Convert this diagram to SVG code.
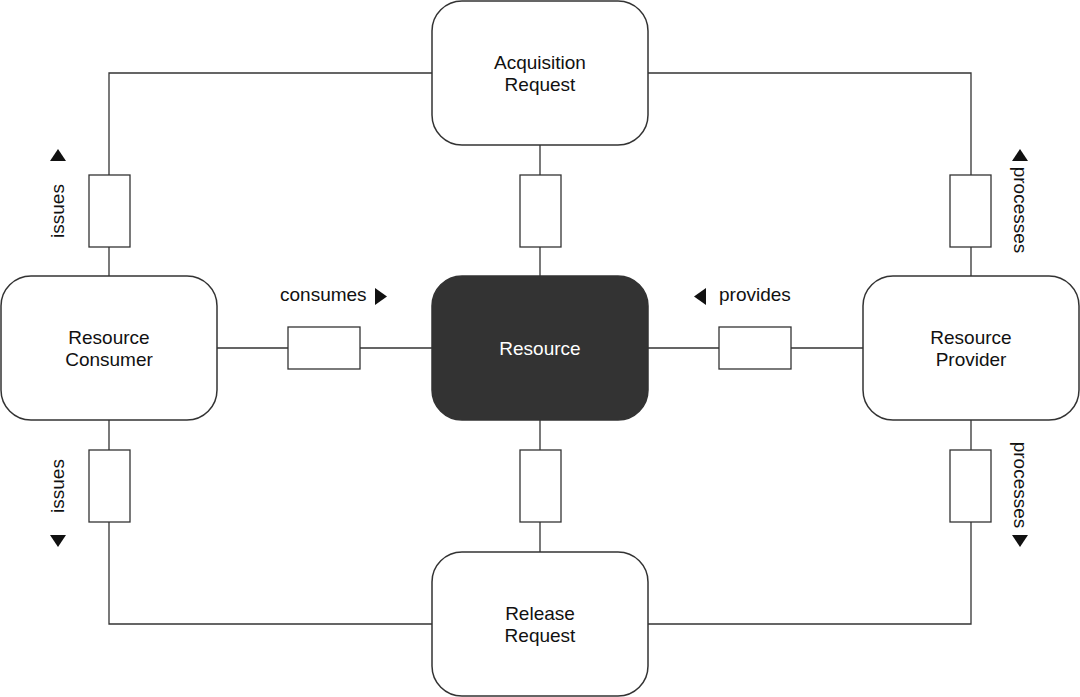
<svg xmlns="http://www.w3.org/2000/svg" width="1080" height="697" viewBox="0 0 1080 697">
<style>
.node{fill:#fff;stroke:#333;stroke-width:1.5}
.dark{fill:#333;stroke:#333;stroke-width:1.5}
.port{fill:#fff;stroke:#333;stroke-width:1.3}
.wire{fill:none;stroke:#333;stroke-width:1.3}
text{font-family:"Liberation Sans",Arial,Helvetica,sans-serif;font-size:19px;fill:#111}
.c{text-anchor:middle}
.w{fill:#fff}
.tri{fill:#111}
</style>
<rect width="1080" height="697" fill="#fff"/>
<g id="connectors">
<path class="wire" d="M432,73H109V276M648,73H971V276M540,145V276M217,348H432M648,348H863M109,420V624H432M971,420V624H648M540,420V552"/>
<rect class="port" x="89" y="175" width="41" height="72"/>
<rect class="port" x="520" y="175" width="41" height="72"/>
<rect class="port" x="950" y="175" width="41" height="72"/>
<rect class="port" x="89" y="450" width="41" height="72"/>
<rect class="port" x="520" y="450" width="41" height="72"/>
<rect class="port" x="950" y="450" width="41" height="72"/>
<rect class="port" x="288" y="327" width="72" height="42"/>
<rect class="port" x="719" y="327" width="72" height="42"/>
</g>
<g id="labels">
<text class="c" transform="translate(64,211) rotate(-90)">issues</text>
<polygon class="tri" points="50,161 66,161 58,149"/>
<text class="c" transform="translate(64,486) rotate(-90)">issues</text>
<polygon class="tri" points="50,535 66,535 58,547"/>
<text class="c" transform="translate(1014,210) rotate(90)">processes</text>
<polygon class="tri" points="1012,161 1028,161 1020,149"/>
<text class="c" transform="translate(1014,485) rotate(90)">processes</text>
<polygon class="tri" points="1012,535 1028,535 1020,547"/>
<text x="280" y="301">consumes</text>
<polygon class="tri" points="375,288 375,305 387,296.5"/>
<text x="719" y="301">provides</text>
<polygon class="tri" points="706,288 706,305 694,296.5"/>
</g>
<g id="acquisition">
<rect class="node" x="432" y="1" width="216" height="144" rx="30"/>
<text class="c" x="540" y="69">Acquisition</text>
<text class="c" x="540" y="91">Request</text>
</g>
<g id="resource">
<rect class="dark" x="432" y="276" width="216" height="144" rx="30"/>
<text class="c w" x="540" y="355">Resource</text>
</g>
<g id="release">
<rect class="node" x="432" y="552" width="216" height="144" rx="30"/>
<text class="c" x="540" y="620">Release</text>
<text class="c" x="540" y="642">Request</text>
</g>
<g id="consumer">
<rect class="node" x="1" y="276" width="216" height="144" rx="30"/>
<text class="c" x="109" y="344">Resource</text>
<text class="c" x="109" y="366">Consumer</text>
</g>
<g id="provider">
<rect class="node" x="863" y="276" width="216" height="144" rx="30"/>
<text class="c" x="971" y="344">Resource</text>
<text class="c" x="971" y="366">Provider</text>
</g>
</svg>
